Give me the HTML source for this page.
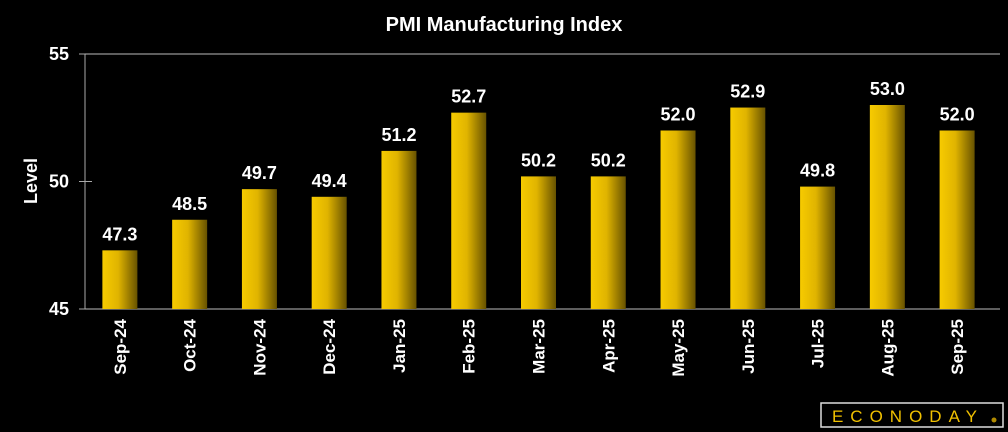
<!DOCTYPE html>
<html><head><meta charset="utf-8"><style>
body{margin:0;background:#000;}
svg{display:block;font-family:"Liberation Sans",sans-serif;}
</style></head><body>
<svg id="c" width="1008" height="432">
<defs><linearGradient id="g" x1="0" x2="1" y1="0" y2="0"><stop offset="0" stop-color="#f7cb00"/><stop offset="0.45" stop-color="#e0b400"/><stop offset="1" stop-color="#675200"/></linearGradient></defs>
<text x="504" y="31" fill="#fff" font-size="20" font-weight="bold" text-anchor="middle">PMI Manufacturing Index</text>
<text transform="translate(37,181) rotate(-90)" fill="#fff" font-size="18" font-weight="bold" text-anchor="middle">Level</text>
<g id="axes"></g><g id="bars"></g>
<g>
<rect x="821" y="403" width="182" height="24" fill="none" stroke="#ddd" stroke-width="1.5"/>
<text x="908" y="422" fill="#f0c000" font-size="17" text-anchor="middle" letter-spacing="7">ECONODAY</text>
<circle cx="994" cy="420" r="2.5" fill="#b08a00"/>
</g>
</svg>
<script>
const categories=["Sep-24","Oct-24","Nov-24","Dec-24","Jan-25","Feb-25","Mar-25","Apr-25","May-25","Jun-25","Jul-25","Aug-25","Sep-25"];
const values=[47.3,48.5,49.7,49.4,51.2,52.7,50.2,50.2,52.0,52.9,49.8,53.0,52.0];
const yTicks=[45,50,55];
const NS="http://www.w3.org/2000/svg";
const L=85,R=992,T=54,B=309,yMin=45,yMax=55;
const y=v=>B-(v-yMin)/(yMax-yMin)*(B-T);
const step=(R-L)/categories.length;
const xc=i=>L+step*(i+0.5);
function mk(t,a,p){const e=document.createElementNS(NS,t);for(const k in a)e.setAttribute(k,a[k]);p.appendChild(e);return e;}
const ax=document.getElementById('axes'),bg=document.getElementById('bars');
let e=mk('line',{x1:L,x2:L,y1:T,y2:B,stroke:'#aaa','stroke-width':1},ax);


e=mk('line',{x1:L,x2:1000,y1:T,y2:T,stroke:'#bbb','stroke-width':1},ax);


yTicks.forEach(v=>{
 const t=mk('line',{x1:L-6,x2:(v===50?L+7:L),y1:y(v),y2:y(v),stroke:'#aaa'},ax);
 
 
 const tx=mk('text',{x:69,y:y(v)+6,fill:'#fff','font-size':18,'font-weight':'bold','text-anchor':'end'},ax);
 tx.textContent=v;
 
 
});
e=mk('line',{x1:L,x2:1000,y1:B,y2:B,stroke:'#bbb'},ax);


categories.forEach((c,i)=>{
 const w=35,x=xc(i)-w/2,yy=y(values[i]);
 const r=mk('rect',{x:x,y:yy,width:w,height:B-yy,fill:'url(#g)'},bg);
 
 
 const lb=mk('text',{x:xc(i),y:yy-10,fill:'#fff','font-size':18,'font-weight':'bold','text-anchor':'middle'},bg);
 lb.textContent=values[i].toFixed(1);
 
 
 const xl=mk('text',{transform:`translate(${xc(i)+6},319) rotate(-90)`,fill:'#fff','font-size':17,'font-weight':'bold','text-anchor':'end'},bg);
 xl.textContent=c;
 
 
});
</script>
</body></html>
